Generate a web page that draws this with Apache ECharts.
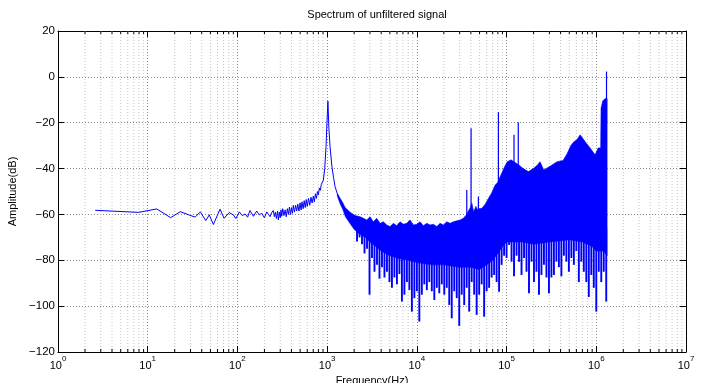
<!DOCTYPE html>
<html><head><meta charset="utf-8">
<script src="https://cdn.jsdelivr.net/npm/echarts@6/dist/echarts.min.js"></script>
<style>html,body{margin:0;padding:0;background:#fff}#c{width:710px;height:383px}</style>
</head><body><div id="c"></div>
<script>
// ---- data ----
const titleText = 'Spectrum of unfiltered signal';
const xName = 'Frequency(Hz)';
const yName = 'Amplitude(dB)';
const yTicks = [20, 0, -20, -40, -60, -80, -100, -120];
const xDecades = [1, 10, 100, 1000, 10000, 100000, 1000000, 10000000];

// single trace part (Hz, dB)
const lowFreq = [2.6, 7.9, 12.6, 18.0, 23.1, 33.7, 38.6, 44.3, 48.6, 53.9, 64, 71, 81, 90, 96, 105, 113, 122, 130, 138, 151, 164, 175, 187, 200, 212, 222, 231, 240, 251, 258, 265, 272, 280, 286, 293, 300, 306, 312, 320, 330, 340, 350, 360, 370, 380, 390, 400, 410, 420, 432, 445, 458, 470, 485, 499, 512, 525, 540, 555, 570, 585, 600, 620, 640, 660, 680, 702, 720, 740, 760, 780, 798, 820, 840, 860, 880, 908, 940, 972, 995, 1020, 1045, 1077, 1131, 1180, 1225, 1300, 1393, 1500, 1600];
const lowAmp = [-58.2, -59.1, -57.6, -61.4, -58.8, -61.2, -58.9, -62.7, -60.2, -64.4, -57.7, -61.7, -59.2, -60.2, -61.8, -58.9, -60.5, -59.8, -61.2, -58.3, -60.8, -58.5, -60.2, -59.5, -61.5, -58.9, -60.0, -61.0, -59.3, -58.3, -61.0, -59.0, -61.8, -58.5, -62.4, -59.0, -61.5, -58.0, -60.8, -57.5, -60.5, -58.0, -61.0, -57.5, -60.0, -56.8, -60.0, -57.0, -59.5, -56.0, -59.0, -56.0, -58.5, -55.5, -58.5, -55.0, -58.0, -54.5, -57.5, -54.0, -57.0, -53.5, -56.5, -53.0, -56.0, -52.5, -55.0, -52.0, -54.5, -51.0, -53.0, -50.0, -51.5, -48.5, -49.5, -47.0, -46.5, -45.0, -40.0, -30.4, -20.0, -10.6, -22.0, -30.4, -39.2, -44.0, -47.9, -51.0, -53.7, -56.0, -58.0];

// dense band: upper envelope (Hz, dB)
const upFreq = [1300, 1400, 1500, 1585, 1800, 2047, 2328, 2535, 2761, 3008, 3275, 3569, 3890, 4236, 4616, 5027, 5474, 5966, 6501, 7079, 7714, 8400, 9150, 9970, 10860, 11810, 12880, 14030, 15280, 16670, 18150, 19770, 21540, 23440, 25530, 27860, 30340, 32990, 35970, 37500, 39500, 41000, 43000, 45500, 47500, 49500, 53000, 58000, 62700, 68000, 74500, 80000, 82500, 88300, 95000, 102000, 112000, 123000, 137000, 153000, 175000, 199000, 220000, 236000, 260000, 305000, 366000, 426000, 473000, 520000, 556000, 611000, 660000, 713000, 760000, 853000, 929000, 970000, 1050000, 1120000, 1130000, 1180000, 1250000, 1300000, 1320000];
const upAmp = [-51, -53, -55, -57, -59, -60.5, -61, -61.7, -62.4, -61, -63.2, -61.7, -63.9, -63.2, -64.6, -65.3, -63.9, -64.9, -63.2, -64.3, -63.9, -62.4, -64.6, -64.3, -63.2, -64.9, -63.9, -64.6, -64.3, -65.3, -63.9, -64.6, -63.2, -63.9, -63.2, -62.8, -62.4, -61.7, -60, -58.5, -57, -55.1, -58.8, -56.5, -58, -57.5, -57.3, -55.5, -53, -50.8, -47.2, -46, -44.5, -42, -39.2, -37, -36.2, -37.2, -38.4, -40, -41.3, -40, -38.5, -37, -40.6, -39, -37, -36.5, -33.5, -30, -28.5, -27.3, -25.3, -27, -28.5, -31, -33, -34, -31, -31, -13.7, -10.5, -9.5, -9.3, -9.5];

// dense band: lower (solid) edge (Hz, dB)
const loFreq = [1300, 1400, 1500, 1600, 1800, 2000, 2200, 2400, 2650, 3000, 3500, 4000, 5000, 6000, 8000, 10000, 15000, 20000, 30000, 40000, 50000, 60000, 70000, 80000, 90000, 100000, 150000, 200000, 300000, 500000, 700000, 900000, 1000000, 1200000, 1320000];
const loAmp = [-52, -55.5, -58, -61, -64, -66.5, -68, -69, -70, -72, -74, -76, -78, -79, -80, -81, -82, -82, -83, -83, -84, -82, -80, -77, -74, -72, -72, -73, -72, -71, -72, -74, -76, -76, -78];

// comb of deep dips hanging under the band: frequency and lowest value (dB)
const combBase = -66;
const combFreq = [2154, 2297, 2448, 2610, 2783, 2967, 3162, 3371, 3594, 3831, 4084, 4354, 4642, 4949, 5275, 5623, 5995, 6391, 6813, 7263, 7743, 8254, 8799, 9381,
  10000, 10660, 11360, 12110, 12920, 13770, 14680, 15650, 16680, 17780, 18960, 20210, 21540, 22970, 24480, 26100, 27830, 29670, 31620, 33710, 35940, 38310, 40840, 43540, 46420, 49490, 52750, 56230, 59950, 63910, 68130, 72630, 77430, 82540, 87990, 93810,
  100000, 106600, 113600, 121100, 129200, 137700, 146800, 156500, 166800, 177800, 189600, 202100, 215400, 229700, 244800, 261000, 278300, 296700, 316200, 337100, 359400, 383100, 408400, 435400, 464200, 494900, 527500, 562300, 599500, 639100, 681300, 726300, 774300, 825400, 879900, 938100,
  1000000, 1066000, 1136000, 1211000, 1291000];
const combTip = [-71.8, -70, -73, -77, -75, -95, -79, -85, -82, -88, -83, -87.5, -85, -89.5, -92, -87.5, -90.5, -86, -98, -95, -89.5, -93, -102.4, -96.5,
  -93.5, -106.7, -95, -90.5, -93, -89.5, -93.5, -97.3, -92, -94.4, -90.5, -95, -92, -99.5, -105.3, -93.5, -96.5, -108.6, -95, -99.5, -92, -102.4, -89.5, -95, -103.8, -95, -90.5, -104.6, -93.5, -92, -87.5, -86.4, -89.5, -93.7, -82, -78,
  -79, -73.3, -80.6, -87, -78, -80.6, -86.4, -79, -85, -94.4, -80.6, -89.5, -85, -95, -86.4, -82, -87.5, -94.4, -87.5, -86.4, -80.6, -83, -87, -78, -80.6, -85, -79, -82, -76, -89.5, -80.6, -85, -89.5, -96, -86.4, -92,
  -102.4, -85, -89.5, -85, -98];

// tall narrow peaks above the band: frequency, base, top (dB)
const peakFreq = [36000, 40200, 48500, 81100, 121000, 135000, 1300000];
const peakBase = [-62, -62, -60, -50, -40, -40, -20];
const peakTop = [-49.3, -22.4, -52.2, -15.4, -25.3, -19.8, 2.3];

// ---- build chart ----
const BLUE = '#0000ff';
const FONT = 'Liberation Sans';
const lowData = lowFreq.map((f, i) => [f, lowAmp[i]]);
const polyData = upFreq.map((f, i) => [f, upAmp[i]])
  .concat(loFreq.map((f, i) => [f, loAmp[i]]).reverse());
const spikeData = combFreq.map((f, i) => [f, combBase, combTip[i]])
  .concat(peakFreq.map((f, i) => [f, peakBase[i], peakTop[i]]));
const nComb = combFreq.length;
const minorFreq = [];
for (let k = 0; k < xDecades.length - 1; k++) {
  for (let d = 2; d <= 9; d++) minorFreq.push([d * xDecades[k], -120]);
}

const chart = echarts.init(document.getElementById('c'), null, {renderer: 'canvas'});
const yFmt = v => (v < 0 ? '\u2212' + (-v) : '' + v);
const xFmt = v => '{b|10}{s|' + Math.round(Math.log10(v)) + '}';

const common = {type: 'log', logBase: 10, min: 1, max: 1e7, interval: 1};
chart.setOption({
  animation: false,
  backgroundColor: '#fff',
  title: {
    text: titleText, left: 372, top: 4, textAlign: 'center',
    textStyle: {fontFamily: FONT, fontSize: 11, fontWeight: 'normal', color: '#000'}
  },
  grid: {left: 58, right: 24, top: 31, bottom: 31, containLabel: false, outerBoundsMode: 'none'},
  xAxis: [
    Object.assign({}, common, {
      position: 'bottom',
      name: xName, nameLocation: 'middle', nameGap: 20,
      nameTextStyle: {fontFamily: FONT, fontSize: 11, color: '#000'},
      axisLine: {show: true, onZero: false, lineStyle: {color: '#000', width: 1}},
      axisTick: {show: true, inside: true, length: 6, lineStyle: {color: '#000'}},
      axisLabel: {
        margin: 3, formatter: xFmt, color: '#000',
        rich: {
          b: {fontFamily: FONT, fontSize: 11, color: '#000', verticalAlign: 'bottom', lineHeight: 16},
          s: {fontFamily: FONT, fontSize: 8, color: '#000', verticalAlign: 'top', lineHeight: 16}
        }
      },
      splitLine: {show: true, lineStyle: {color: '#888', type: [1, 2], width: 1}},
      minorTick: {show: false}, minorSplitLine: {show: false}
    }),
    Object.assign({}, common, {
      position: 'top',
      axisLine: {show: true, onZero: false, lineStyle: {color: '#000', width: 1}},
      axisTick: {show: true, inside: true, length: 6, lineStyle: {color: '#000'}},
      axisLabel: {show: false}, splitLine: {show: false}
    })
  ],
  yAxis: [
    {
      type: 'value', min: -120, max: 20, interval: 20, position: 'left',
      name: yName, nameLocation: 'middle', nameGap: 31,
      nameTextStyle: {fontFamily: FONT, fontSize: 11, color: '#000'},
      axisLine: {show: true, onZero: false, lineStyle: {color: '#000', width: 1}},
      axisTick: {show: true, inside: true, length: 6, lineStyle: {color: '#000'}},
      axisLabel: {margin: 3, formatter: yFmt, fontFamily: FONT, fontSize: 11.5, color: '#000'},
      splitLine: {show: true, lineStyle: {color: '#888', type: [1, 2], width: 1}}
    },
    {
      type: 'value', min: -120, max: 20, interval: 20, position: 'right',
      axisLine: {show: true, onZero: false, lineStyle: {color: '#000', width: 1}},
      axisTick: {show: true, inside: true, length: 6, lineStyle: {color: '#000'}},
      axisLabel: {show: false}, splitLine: {show: false}
    }
  ],
  series: [
    {
      type: 'custom', name: 'minorGrid', xAxisIndex: 0, yAxisIndex: 0, silent: true, z: 1,
      data: minorFreq, encode: {x: 0, y: 1},
      renderItem: function (params, api) {
        const x = api.coord([api.value(0), -120])[0];
        const cs = params.coordSys;
        const yb = cs.y + cs.height, yt = cs.y;
        return {type: 'group', children: [
          {type: 'line', shape: {x1: x, y1: yt, x2: x, y2: yb}, style: {stroke: '#c4c4c4', lineWidth: 1, lineDash: [1, 2]}},
          {type: 'line', shape: {x1: x, y1: yb, x2: x, y2: yb - 3}, style: {stroke: '#000', lineWidth: 1}},
          {type: 'line', shape: {x1: x, y1: yt, x2: x, y2: yt + 3}, style: {stroke: '#000', lineWidth: 1}}
        ]};
      }
    },
    {
      type: 'line', name: 'trace', data: lowData, showSymbol: false, symbol: 'none', z: 3,
      lineStyle: {color: BLUE, width: 1}, itemStyle: {color: BLUE}
    },
    {
      type: 'custom', name: 'band', data: polyData, encode: {x: 0, y: 1}, z: 3, silent: true,
      renderItem: function (params, api) {
        if (params.dataIndex !== 0) return null;
        const pts = polyData.map(p => api.coord(p));
        return {type: 'polygon', shape: {points: pts}, style: {fill: BLUE, stroke: BLUE, lineWidth: 0.6}};
      }
    },
    {
      type: 'custom', name: 'spikes', data: spikeData, encode: {x: 0, y: [1, 2]}, z: 3, silent: true,
      renderItem: function (params, api) {
        const f = api.value(0);
        const a = api.coord([f, api.value(1)]);
        const b = api.coord([f, api.value(2)]);
        const w = params.dataIndex < nComb ? 1.9 : 1.2;
        return {type: 'line', shape: {x1: a[0], y1: a[1], x2: b[0], y2: b[1]}, style: {stroke: BLUE, lineWidth: w}};
      }
    }
  ]
});
</script></body></html>
